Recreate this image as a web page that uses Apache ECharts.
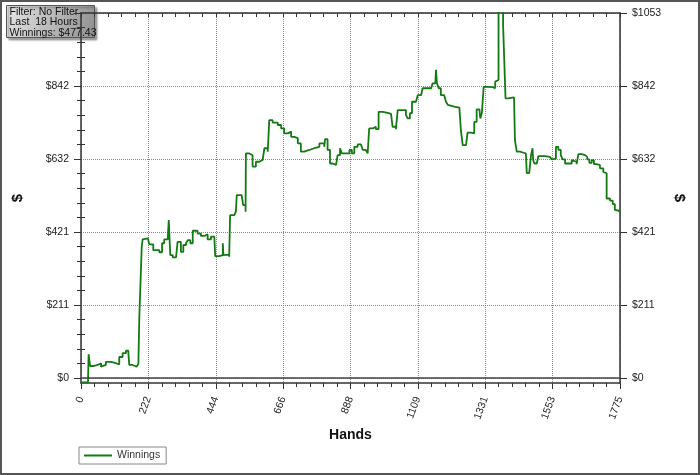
<!DOCTYPE html>
<html>
<head>
<meta charset="utf-8">
<script src="https://cdn.jsdelivr.net/npm/echarts@6/dist/echarts.min.js"></script>
<style>
  html, body { margin: 0; padding: 0; background: #fff; }
  #chart { width: 700px; height: 475px; }
</style>
</head>
<body>
<div id="chart"></div>
<script>
// hands played -> cumulative winnings ($)
var hands = [0, 23, 25, 30, 40, 55, 66, 71, 82, 99, 115, 126, 137, 148, 156, 159, 170, 183, 189, 192,
  198, 200, 203, 208, 220, 225, 238, 258, 267, 274, 286, 289, 294, 302, 313, 318, 329, 337, 346, 352,
  360, 368, 384, 395, 406, 417, 428, 439, 442, 455, 467, 469, 475, 488, 491, 505, 510, 513, 529, 534,
  542, 543, 554, 565, 576, 587, 598, 604, 615, 620, 631, 648, 659, 669, 681, 692, 702, 714, 724, 735,
  752, 768, 785, 801, 804, 812, 820, 829, 840, 845, 853, 859, 873, 884, 892, 900, 911, 922, 928, 938,
  944, 949, 961, 971, 980, 994, 1010, 1021, 1026, 1037, 1043, 1054, 1070, 1076, 1083, 1090, 1103, 1109, 1120, 1125,
  1142, 1153, 1158, 1167, 1169, 1172, 1178, 1185, 1196, 1202, 1208, 1213, 1229, 1246, 1251, 1257, 1268, 1273, 1284, 1295,
  1303, 1312, 1315, 1320, 1326, 1339, 1356, 1364, 1369, 1375, 1383, 1390, 1396, 1398, 1407, 1413, 1426, 1429, 1435, 1446,
  1457, 1465, 1468, 1476, 1482, 1487, 1489, 1493, 1501, 1506, 1517, 1528, 1544, 1550, 1555, 1564, 1572, 1580, 1586, 1594,
  1605, 1610, 1616, 1621, 1632, 1638, 1649, 1660, 1667, 1674, 1682, 1689, 1696, 1709, 1720, 1726, 1731, 1742, 1751, 1758,
  1764, 1775];
var winnings = [-12, -11, 69, 35, 38, 43, 33, 38, 47, 43, 40, 61, 72, 79, 72, 38, 33, 35, 42, 175,
  176, 379, 400, 403, 398, 386, 369, 363, 389, 400, 408, 456, 355, 348, 352, 393, 364, 384, 390, 398,
  389, 425, 417, 410, 415, 400, 408, 408, 352, 355, 389, 355, 356, 350, 470, 475, 480, 528, 528, 499,
  480, 648, 643, 610, 624, 629, 634, 663, 653, 744, 737, 730, 720, 706, 711, 696, 692, 677, 653, 658,
  663, 667, 677, 667, 689, 658, 619, 615, 617, 643, 663, 648, 648, 658, 648, 667, 674, 672, 658, 663,
  648, 720, 725, 718, 768, 765, 762, 764, 725, 718, 773, 773, 759, 749, 764, 797, 797, 816, 821, 836,
  836, 840, 850, 845, 889, 851, 836, 816, 812, 797, 788, 783, 780, 778, 715, 672, 667, 708, 706, 739,
  775, 775, 749, 764, 840, 839, 836, 855, 860, 1120, 1100, 1018, 1018, 807, 805, 810, 810, 687, 653, 650,
  648, 648, 591, 595, 643, 663, 629, 619, 624, 640, 640, 638, 640, 631, 633, 667, 658, 643, 631, 619,
  624, 619, 629, 624, 617, 646, 643, 638, 631, 621, 629, 617, 615, 605, 595, 591, 518, 512, 502, 485,
  482, 477.43];

var xTicks = [0, 222, 444, 666, 888, 1109, 1331, 1553, 1775];
var yTicks = [0, 211, 421, 632, 842, 1053];
var infoLines = ['Filter: No Filter', 'Last  18 Hours', 'Winnings: $477.43'];

var yMin = -14, yMax = 1053;
var xMax = 1775;

// four minor steps between each pair of major $ ticks
var yMinor = [];
for (var i = 0; i < yTicks.length - 1; i++) {
  for (var k = 1; k < 5; k++) {
    yMinor.push(yTicks[i] + (yTicks[i + 1] - yTicks[i]) * k / 5);
  }
}
// the top-left label sits under the info box, so it is not drawn there
var yTicksLeft = yTicks.slice(0, -1);

var font = 'Liberation Sans';
var axisColor = '#333';
var gridLine = { show: true, lineStyle: { color: '#888', type: 'dotted', width: 1 } };

var chart = echarts.init(document.getElementById('chart'));

var points = hands.map(function (h, i) { return [h, winnings[i]]; });

var option = {
  backgroundColor: '#fff',
  animation: false,
  textStyle: { fontFamily: font },
  grid: { left: 81, right: 80, top: 13, bottom: 92, outerBoundsMode: 'none' },
  legend: {
    left: 79, top: 447,
    data: ['Winnings'],
    icon: 'rect',
    itemWidth: 28, itemHeight: 2, itemGap: 6,
    padding: [3, 6, 3, 5],
    borderColor: '#888', borderWidth: 1,
    textStyle: { fontSize: 10.5, color: '#333', fontFamily: font }
  },
  xAxis: [{
    type: 'value', position: 'bottom', min: 0, max: xMax, interval: xMax / 8,
    name: 'Hands', nameLocation: 'middle', nameGap: 45,
    nameTextStyle: { fontWeight: 'bold', fontSize: 14, color: '#111', fontFamily: font },
    axisLine: { show: true, onZero: false, lineStyle: { color: axisColor, width: 1.5 } },
    axisTick: { show: true, length: 6, lineStyle: { color: axisColor } },
    minorTick: { show: true, splitNumber: 5, length: 4, lineStyle: { color: axisColor } },
    axisLabel: {
      rotate: 70, margin: 14, fontSize: 10.5, color: '#222', fontFamily: font,
      formatter: function (v, idx) { return String(xTicks[idx]); }
    },
    splitLine: gridLine
  }, {
    type: 'value', position: 'top', min: 0, max: xMax, interval: xMax / 8,
    axisLine: { show: true, onZero: false, lineStyle: { color: axisColor, width: 1.5 } },
    axisTick: { show: true, inside: true, length: 4, lineStyle: { color: axisColor } },
    minorTick: { show: true, splitNumber: 5, length: 4, lineStyle: { color: axisColor } },
    axisLabel: { show: false },
    splitLine: { show: false }
  }],
  yAxis: [{
    type: 'value', position: 'left', min: yMin, max: yMax,
    name: '$', nameLocation: 'middle', nameGap: 56, nameRotate: 90,
    nameTextStyle: { fontWeight: 'bold', fontSize: 15, color: '#111', fontFamily: font },
    axisLine: { show: true, onZero: false, lineStyle: { color: axisColor, width: 1.5 } },
    axisTick: { show: true, length: 7, customValues: yTicks, lineStyle: { color: axisColor } },
    axisLabel: {
      customValues: yTicksLeft, margin: 12, fontSize: 10.5, color: '#222', fontFamily: font,
      formatter: function (v) { return '$' + v; }
    },
    splitLine: gridLine
  }, {
    type: 'value', position: 'right', min: yMin, max: yMax,
    name: '$', nameLocation: 'middle', nameGap: 45, nameRotate: -90,
    nameTextStyle: { fontWeight: 'bold', fontSize: 15, color: '#111', fontFamily: font },
    axisLine: { show: true, onZero: false, lineStyle: { color: axisColor, width: 1.5 } },
    axisTick: { show: true, length: 7, customValues: yTicks, lineStyle: { color: axisColor } },
    axisLabel: {
      customValues: yTicks, margin: 12, fontSize: 10.5, color: '#222', fontFamily: font,
      formatter: function (v) { return '$' + v; }
    },
    splitLine: { show: false }
  }, {
    type: 'value', position: 'left', min: yMin, max: yMax,
    axisLine: { show: false },
    axisTick: { show: true, length: 4, customValues: yMinor, lineStyle: { color: axisColor } },
    axisLabel: { show: false },
    splitLine: { show: false }
  }, {
    type: 'value', position: 'right', min: yMin, max: yMax,
    axisLine: { show: false },
    axisTick: { show: true, length: 4, customValues: yMinor, lineStyle: { color: axisColor } },
    axisLabel: { show: false },
    splitLine: { show: false }
  }],
  series: [{
    name: 'Winnings',
    type: 'line',
    xAxisIndex: 0, yAxisIndex: 0,
    data: points,
    step: 'end',
    symbol: 'none',
    clip: true,
    lineStyle: { color: '#137a13', width: 1.8 },
    itemStyle: { color: '#137a13' },
    markLine: {
      silent: true, symbol: 'none', label: { show: false },
      lineStyle: { color: '#444', type: 'solid', width: 1.5 },
      data: [{ yAxis: 0 }]
    }
  }],
  graphic: [{
    type: 'rect', zlevel: 1,
    shape: { x: 1, y: 1, width: 698, height: 473 },
    style: { fill: 'none', stroke: '#555', lineWidth: 2 }
  }, {
    type: 'group', left: 6, top: 5, zlevel: 1,
    children: [{
      type: 'rect',
      shape: { x: 0, y: 0, width: 88, height: 32 },
      style: {
        fill: new echarts.graphic.LinearGradient(0, 0, 1, 1, [
          { offset: 0, color: '#e6e6e6' },
          { offset: 1, color: '#8e8e8e' }
        ]),
        stroke: '#555', lineWidth: 1,
        shadowColor: 'rgba(0,0,0,0.35)', shadowOffsetX: 2, shadowOffsetY: 2, shadowBlur: 2
      }
    }, {
      type: 'text', left: 3, top: 1,
      style: {
        text: infoLines.join('\n'), fill: '#111',
        font: '10.5px "Liberation Sans"', lineHeight: 10.5
      }
    }]
  }]
};

chart.setOption(option);
</script>
</body>
</html>
